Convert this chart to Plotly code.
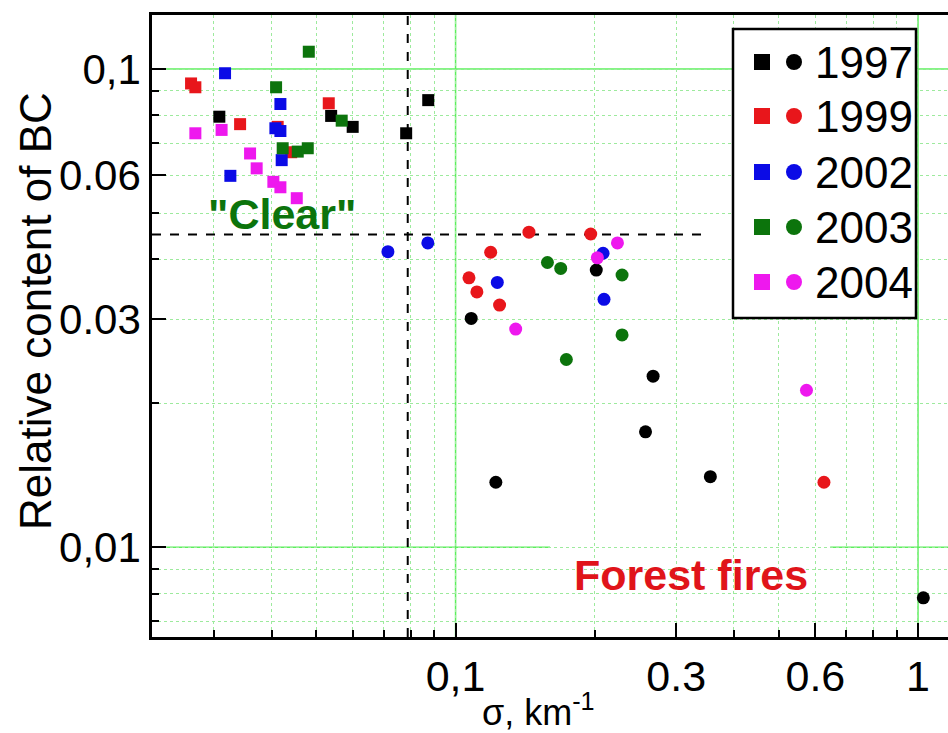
import plotly.graph_objects as go

years = ["1997", "1999", "2002", "2003", "2004"]
colors = ["#000000", "#e8161b", "#0b0be6", "#0c740c", "#ee18ee"]

# squares ("Clear" conditions)
sq_x = [
    [0.03084, 0.05382, 0.05991, 0.07819, 0.08727],
    [0.02679, 0.02737, 0.05318, 0.0342, 0.04124, 0.0441],
    [0.03173, 0.0418, 0.04077, 0.0418, 0.04207, 0.03258],
    [0.04815, 0.04091, 0.05672, 0.04228, 0.04557, 0.0479],
    [0.02737, 0.03119, 0.03594, 0.03714, 0.04036, 0.0418, 0.04535],
]
sq_y = [
    [0.0795, 0.0798, 0.0757, 0.0734, 0.0861],
    [0.0933, 0.0916, 0.0848, 0.0767, 0.0757, 0.0670],
    [0.0980, 0.0845, 0.0752, 0.0742, 0.0645, 0.0598],
    [0.1087, 0.0916, 0.0780, 0.0683, 0.0672, 0.0683],
    [0.0734, 0.0746, 0.0666, 0.0620, 0.0581, 0.0566, 0.0537],
]
# circles (forest fires)
ci_x = [
    [0.2015, 0.1081, 0.2674, 0.2575, 0.1222, 0.3556, 1.027],
    [0.1441, 0.1960, 0.1191, 0.1069, 0.1112, 0.1245, 0.6261],
    [0.0714, 0.0871, 0.2084, 0.1231, 0.2094],
    [0.1580, 0.1688, 0.2291, 0.2291, 0.1736],
    [0.2239, 0.2026, 0.1349, 0.5739],
]
ci_y = [
    [0.0380, 0.0301, 0.0228, 0.01744, 0.01368, 0.01405, 0.00784],
    [0.0456, 0.0452, 0.0414, 0.0366, 0.0342, 0.0321, 0.01368],
    [0.0415, 0.0433, 0.0412, 0.0358, 0.0330],
    [0.0394, 0.0383, 0.0371, 0.0278, 0.0247],
    [0.0433, 0.0403, 0.0286, 0.0213],
]

x_tickvals = [0.1, 0.3, 0.6, 1]
x_ticktext = ["0,1", "0.3", "0.6", "1"]
x_minor = [0.03, 0.04, 0.05, 0.06, 0.07, 0.08, 0.09, 0.2, 0.4, 0.5, 0.7, 0.8, 0.9]
y_tickvals = [0.01, 0.03, 0.06, 0.1]
y_ticktext = ["0,01", "0.03", "0.06", "0,1"]
y_minor = [0.007, 0.008, 0.009, 0.02, 0.04, 0.05, 0.07, 0.08, 0.09]

x_major_lines = [0.1, 1]
y_major_lines = [0.01, 0.1]
v_dash_x = 0.0788
h_dash_y = 0.0451
h_dash_xend = 0.346

FONT = "Liberation Sans Narrow, Arial Narrow, Liberation Sans, Arial"
GRID_SOLID = "#5cf05c"
GRID_DOT = "#9dea9d"

fig = go.Figure()
for i in range(len(years)):
    fig.add_trace(go.Scatter(x=sq_x[i], y=sq_y[i], mode="markers",
                             marker=dict(symbol="square", size=12, color=colors[i]),
                             showlegend=False, cliponaxis=False))
for i in range(len(years)):
    fig.add_trace(go.Scatter(x=ci_x[i], y=ci_y[i], mode="markers",
                             marker=dict(symbol="circle", size=13, color=colors[i]),
                             showlegend=False, cliponaxis=False))

x_lo, x_hi = -1.6565, 0.0649
y_lo, y_hi = -2.1875, -0.887


def px2paper_x(px):
    return (px - 152) / 796.0


def px2paper_y(py):
    return (637 - py) / 622.0


shapes = []
for xv in x_major_lines:
    shapes.append(dict(type="line", xref="x", yref="paper", x0=xv, x1=xv, y0=0, y1=1,
                       line=dict(color=GRID_SOLID, width=1.5), layer="below"))
for yv in y_major_lines:
    shapes.append(dict(type="line", xref="paper", yref="y", x0=0, x1=1, y0=yv, y1=yv,
                       line=dict(color=GRID_SOLID, width=1.5), layer="below"))
# white area behind "Forest fires"
shapes.append(dict(type="rect", xref="paper", yref="paper", x0=0.5, x1=0.852, y0=0.004, y1=0.183,
                   fillcolor="white", line=dict(width=0), layer="between"))
# dashed separators
shapes.append(dict(type="line", xref="x", yref="paper", x0=v_dash_x, x1=v_dash_x, y0=0, y1=1,
                   line=dict(color="black", width=2, dash="dash"), layer="between"))
shapes.append(dict(type="line", xref="x", yref="y", x0=10 ** x_lo, x1=h_dash_xend, y0=h_dash_y, y1=h_dash_y,
                   line=dict(color="black", width=2, dash="dash"), layer="between"))

# legend box
shapes.append(dict(type="rect", xref="paper", yref="paper",
                   x0=px2paper_x(733), x1=px2paper_x(916), y0=px2paper_y(318), y1=px2paper_y(29),
                   fillcolor="white", line=dict(color="black", width=2.5), layer="above"))
annotations = []
row_y = [62, 116, 172, 227, 282]
for i, yr in enumerate(years):
    cy = row_y[i]
    shapes.append(dict(type="rect", xref="paper", yref="paper",
                       x0=px2paper_x(754), x1=px2paper_x(770), y0=px2paper_y(cy + 8), y1=px2paper_y(cy - 8),
                       fillcolor=colors[i], line=dict(width=0), layer="above"))
    shapes.append(dict(type="circle", xref="paper", yref="paper",
                       x0=px2paper_x(786), x1=px2paper_x(802), y0=px2paper_y(cy + 8), y1=px2paper_y(cy - 8),
                       fillcolor=colors[i], line=dict(width=0), layer="above"))
    annotations.append(dict(text=yr, xref="paper", yref="paper", x=px2paper_x(813), y=px2paper_y(cy),
                            xanchor="left", yanchor="middle", showarrow=False,
                            font=dict(family=FONT, size=44, color="black")))

annotations.append(dict(text="<b>\"Clear\"</b>", xref="paper", yref="paper",
                        x=px2paper_x(282), y=px2paper_y(214), xanchor="center", yanchor="middle",
                        showarrow=False, font=dict(family="Liberation Sans, Arial", size=43, color="#0c740c")))
annotations.append(dict(text="<b>Forest fires</b>", xref="paper", yref="paper",
                        x=px2paper_x(691), y=px2paper_y(575), xanchor="center", yanchor="middle",
                        showarrow=False, font=dict(family="Liberation Sans, Arial", size=43, color="#e0141a")))
# axis titles
annotations.append(dict(text="Relative content of BC", xref="paper", yref="paper",
                        x=px2paper_x(35), y=px2paper_y(311), xanchor="center", yanchor="middle",
                        textangle=-90, showarrow=False, font=dict(family=FONT, size=44, color="black")))
annotations.append(dict(text="σ, km<sup>-1</sup>", xref="paper", yref="paper",
                        x=px2paper_x(538), y=px2paper_y(710), xanchor="center", yanchor="middle",
                        showarrow=False, font=dict(family=FONT, size=36, color="black")))

fig.update_layout(
    width=948, height=733,
    margin=dict(l=152, r=0, t=15, b=96),
    paper_bgcolor="white", plot_bgcolor="white",
    font=dict(family=FONT, color="black"),
    shapes=shapes, annotations=annotations,
    showlegend=False,
)
fig.update_xaxes(
    type="log", range=[x_lo, x_hi],
    tickmode="array", tickvals=x_tickvals, ticktext=x_ticktext,
    ticks="inside", ticklen=14, tickwidth=2, tickcolor="black",
    tickfont=dict(size=43, family=FONT),
    showgrid=True, gridcolor=GRID_DOT, griddash="dot", gridwidth=1,
    minor=dict(tickmode="array", tickvals=x_minor, ticks="inside", ticklen=7, tickwidth=2,
               tickcolor="black", showgrid=True, gridcolor=GRID_DOT, griddash="dot", gridwidth=1),
    showline=True, linecolor="black", linewidth=2.5, mirror=True,
    zeroline=False,
)
fig.update_yaxes(
    type="log", range=[y_lo, y_hi],
    tickmode="array", tickvals=y_tickvals, ticktext=y_ticktext,
    ticks="inside", ticklen=14, tickwidth=2, tickcolor="black",
    tickfont=dict(size=42, family=FONT),
    showgrid=True, gridcolor=GRID_DOT, griddash="dot", gridwidth=1,
    minor=dict(tickmode="array", tickvals=y_minor, ticks="inside", ticklen=7, tickwidth=2,
               tickcolor="black", showgrid=True, gridcolor=GRID_DOT, griddash="dot", gridwidth=1),
    showline=True, linecolor="black", linewidth=2.5, mirror=False,
    zeroline=False,
)

fig.write_html("out.html")
